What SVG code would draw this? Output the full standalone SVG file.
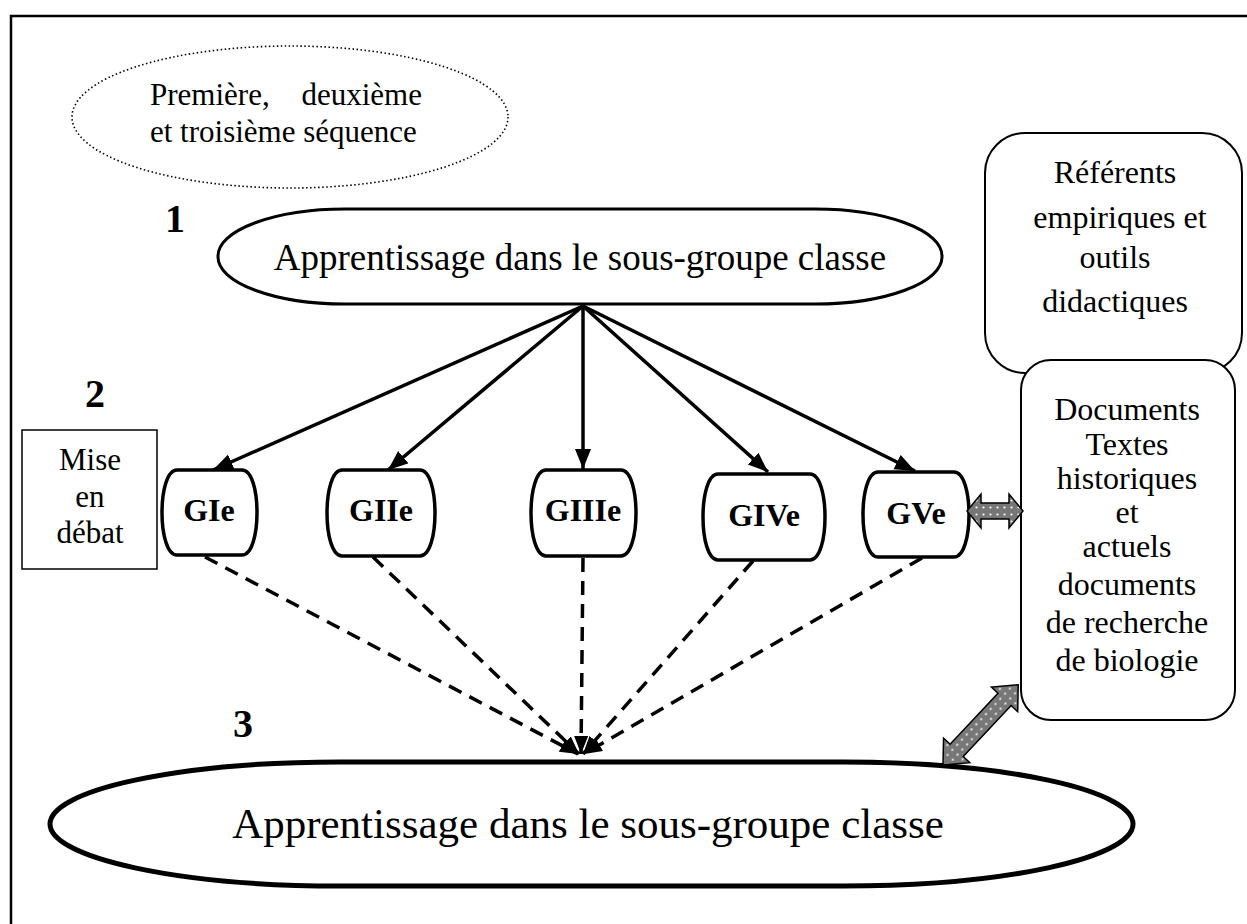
<svg xmlns="http://www.w3.org/2000/svg" width="1247" height="924" viewBox="0 0 1247 924">
<style>
text{font-family:"Liberation Serif","Times New Roman",serif;fill:#000}
.t30{font-size:30px}
.t31{font-size:31px}
.t32{font-size:32px}
.gl{font-size:32px;font-weight:bold;text-anchor:middle}
.num{font-size:40px;font-weight:bold;text-anchor:middle}
.mid{text-anchor:middle}
.g{fill:#fff;stroke:#000;stroke-width:3.5}
.solid{stroke:#000;stroke-width:3.5;fill:none;marker-end:url(#ah)}
.dash{stroke:#000;stroke-width:3.5;fill:none;stroke-dasharray:14 9;marker-end:url(#ah2)}
.dbl{fill:url(#dots);stroke:#000;stroke-width:1.5}
</style>
<defs>
<marker id="ah" markerUnits="userSpaceOnUse" markerWidth="22" markerHeight="18" refX="20" refY="8" orient="auto"><path d="M0,0 L20,8 L0,16 Z" fill="#000"/></marker>
<marker id="ah2" markerUnits="userSpaceOnUse" markerWidth="22" markerHeight="18" refX="18" refY="7" orient="auto"><path d="M0,0 L18,7 L0,14 Z" fill="#000"/></marker>
<pattern id="dots" width="7" height="7" patternUnits="userSpaceOnUse"><rect width="7" height="7" fill="#777"/><circle cx="3.5" cy="3.5" r="1.1" fill="#fff"/></pattern>
</defs>
<rect width="1247" height="924" fill="#fff"/>
<path d="M11,924 V16 H1247" fill="none" stroke="#000" stroke-width="2.5"/>

<g id="sequence">
<ellipse cx="290" cy="117" rx="218" ry="71" fill="none" stroke="#000" stroke-width="1.6" stroke-dasharray="1.5 2.5"/>
<text class="t31" x="150" y="105">Première,</text>
<text class="t31" x="422" y="105" text-anchor="end">deuxième</text>
<text class="t31" x="150" y="142">et troisième séquence</text>
</g>

<g id="n1"><text class="num" x="175" y="232">1</text></g>
<g id="n2"><text class="num" x="95" y="407">2</text></g>
<g id="n3"><text class="num" x="243" y="737">3</text></g>

<g id="top">
<rect x="218" y="209" width="724" height="95" rx="127" ry="47" fill="#fff" stroke="#000" stroke-width="3"/>
<text x="580" y="270" class="mid" style="font-size:37px">Apprentissage dans le sous-groupe classe</text>
</g>

<g id="debat">
<rect x="22" y="430" width="135" height="139" fill="#fff" stroke="#000" stroke-width="1.5"/>
<text class="t31 mid" x="90" y="470">Mise</text>
<text class="t31 mid" x="90" y="507">en</text>
<text class="t31 mid" x="90" y="543">débat</text>
</g>

<g id="referents">
<rect x="985" y="133" width="257" height="240" rx="40" fill="#fff" stroke="#000" stroke-width="2"/>
<text class="t32 mid" x="1115" y="183">Référents</text>
<text class="t32 mid" x="1120" y="228">empiriques et</text>
<text class="t32 mid" x="1115" y="268">outils</text>
<text class="t32 mid" x="1115" y="312">didactiques</text>
</g>

<g id="documents">
<rect x="1021" y="360" width="214" height="360" rx="30" fill="#fff" stroke="#000" stroke-width="2"/>
<text class="t32 mid" x="1127" y="420">Documents</text>
<text class="t32 mid" x="1127" y="455">Textes</text>
<text class="t32 mid" x="1127" y="489">historiques</text>
<text class="t32 mid" x="1127" y="523">et</text>
<text class="t32 mid" x="1127" y="557">actuels</text>
<text class="t32 mid" x="1127" y="595">documents</text>
<text class="t32 mid" x="1127" y="633">de recherche</text>
<text class="t32 mid" x="1127" y="671">de biologie</text>
</g>

<g id="GIe"><path class="g" d="M177,470 H242 C262,470 262,555 242,555 H177 C157,555 157,470 177,470 Z"/><text class="gl" x="209" y="521">GIe</text></g>
<g id="GIIe"><path class="g" d="M342,470 H420 C440,470 440,556 420,556 H342 C322,556 322,470 342,470 Z"/><text class="gl" x="381" y="521">GIIe</text></g>
<g id="GIIIe"><path class="g" d="M546,470 H621 C641,470 641,556 621,556 H546 C526,556 526,470 546,470 Z"/><text class="gl" x="583" y="521">GIIIe</text></g>
<g id="GIVe"><path class="g" d="M718,474 H810 C830,474 830,560 810,560 H718 C698,560 698,474 718,474 Z"/><text class="gl" x="764" y="526">GIVe</text></g>
<g id="GVe"><path class="g" d="M878,472 H954 C974,472 974,557 954,557 H878 C858,557 858,472 878,472 Z"/><text class="gl" x="916" y="524">GVe</text></g>

<g id="bottom">
<rect x="50" y="762" width="1083" height="124" rx="290" ry="62" fill="#fff" stroke="#000" stroke-width="5"/>
<text x="588" y="838" class="mid" style="font-size:43px">Apprentissage dans le sous-groupe classe</text>
</g>

<g id="connectors">
<line class="solid" x1="583" y1="306" x2="213" y2="470"/>
<line class="solid" x1="583" y1="306" x2="388" y2="470"/>
<line class="solid" x1="583" y1="306" x2="583" y2="469"/>
<line class="solid" x1="583" y1="306" x2="768" y2="472"/>
<line class="solid" x1="583" y1="306" x2="915" y2="471"/>
<line class="dash" x1="205" y1="557" x2="578" y2="754"/>
<line class="dash" x1="373" y1="557" x2="579" y2="754"/>
<line class="dash" x1="583" y1="558" x2="581" y2="754"/>
<line class="dash" x1="753" y1="561" x2="583" y2="754"/>
<line class="dash" x1="922" y1="558" x2="584" y2="754"/>
<path class="dbl" d="M967,511 L981,494 L981,503 L1009,503 L1009,494 L1023,511 L1009,528 L1009,519 L981,519 L981,528 Z"/>
<path class="dbl" transform="translate(943,765) rotate(-46.85)" d="M0,0 L20,-18 L20,-9 L90,-9 L90,-18 L110,0 L90,18 L90,9 L20,9 L20,18 Z"/>
</g>
</svg>
